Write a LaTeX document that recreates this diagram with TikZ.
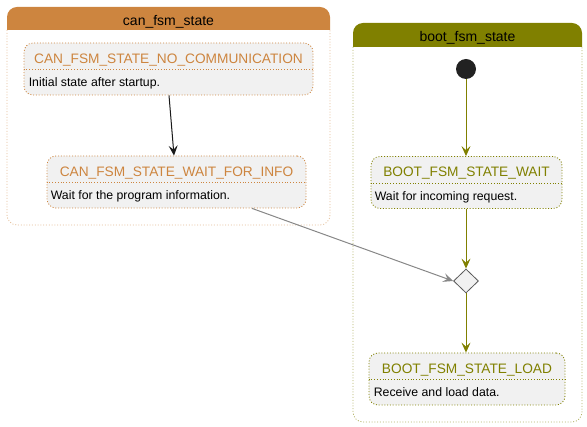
\documentclass[tikz,border=0pt]{standalone}
\usepackage{fontspec}
\setmainfont{Liberation Sans}
\usetikzlibrary{calc,shapes.geometric,arrows.meta}
\definecolor{canorange}{RGB}{205,133,63}
\definecolor{bootolive}{RGB}{128,128,0}
\definecolor{boxgray}{RGB}{241,241,241}
\definecolor{dotblack}{RGB}{34,34,34}
\tikzset{
  dotline/.style={line width=0.8pt, dash pattern=on 1pt off 1.8pt},
  statebox/.style={draw=#1, dotline, rounded corners=9pt, fill=boxgray, inner sep=0pt, minimum height=52pt},
  statetitle/.style={text=#1, font=\fontsize{13.7}{16}\selectfont, inner sep=0pt, anchor=base},
  statedesc/.style={font=\fontsize{12.3}{14}\selectfont, inner sep=0pt, anchor=base west},
  headtext/.style={font=\fontsize{14}{16}\selectfont, inner sep=0pt, anchor=base},
  trans/.style={line width=1pt, -{Stealth[length=10pt,width=9pt,inset=4pt]}},
}

\begin{document}
\begin{tikzpicture}[x=1pt,y=-1pt]
\useasboundingbox (0,0) rectangle (587,427);

% containers
\fill[canorange] (7,30) [rounded corners=10pt] -- (7,7) -- (330,7) [sharp corners] -- (330,30) -- cycle;
\draw[canorange!55, dotline] (7,30) [rounded corners=10pt] -- (7,225) -- (330,225) [sharp corners] -- (330,30);
\node[headtext] (canhead) at (168.5,26) {can\_fsm\_state};

\fill[bootolive] (353,47) [rounded corners=10pt] -- (353,23) -- (582,23) [sharp corners] -- (582,47) -- cycle;
\draw[bootolive!60, dotline] (353,47) [rounded corners=10pt] -- (353,422) -- (582,422) [sharp corners] -- (582,47);
\node[headtext] (boothead) at (467.5,42) {boot\_fsm\_state};

% states
\node[statebox=canorange, minimum width=289pt] (nocomm) at (168.5,69) {};
\node[statebox=canorange, minimum width=259pt] (waitinfo) at (176.5,182) {};
\node[statebox=bootolive, minimum width=191pt] (bootwait) at (466.5,182.5) {};
\node[statebox=bootolive, minimum width=196pt] (bootload) at (467,379) {};

\node[statetitle=canorange] (nocommtitle) at ($(nocomm.north)+(0,20.5)$) {CAN\_FSM\_STATE\_NO\_COMMUNICATION};
\node[statetitle=canorange] (waitinfotitle) at ($(waitinfo.north)+(0,20.5)$) {CAN\_FSM\_STATE\_WAIT\_FOR\_INFO};
\node[statetitle=bootolive] (bootwaittitle) at ($(bootwait.north)+(0,20.5)$) {BOOT\_FSM\_STATE\_WAIT};
\node[statetitle=bootolive] (bootloadtitle) at ($(bootload.north)+(0,20.5)$) {BOOT\_FSM\_STATE\_LOAD};

\foreach \s/\c in {nocomm/canorange,waitinfo/canorange,bootwait/bootolive,bootload/bootolive}
{
	\draw[\c, dotline] ($(\s.north west)+(0,27)$) -- ($(\s.north east)+(0,27)$);
}

\node[statedesc] (nocommdesc) at ($(nocomm.north west)+(5,44)$) {Initial state after startup.};
\node[statedesc] (waitinfodesc) at ($(waitinfo.north west)+(4,44)$) {Wait for the program information.};
\node[statedesc] (bootwaitdesc) at ($(bootwait.north west)+(4,44)$) {Wait for incoming request.};
\node[statedesc] (bootloaddesc) at ($(bootload.north west)+(5,44)$) {Receive and load data.};

% start and choice
\node[circle, fill=dotblack, minimum size=20pt, inner sep=0pt] (start) at (466,69) {};
\node[diamond, draw=black!65, fill=boxgray, line width=0.8pt, minimum width=25pt, minimum height=24pt, inner sep=0pt] (choice) at (466,281) {};

% transitions
\draw[trans, black!90] ([xshift=0.5pt]nocomm.south) -- ([xshift=-2.5pt]waitinfo.north);
\draw[trans, bootolive] (start) -- (bootwait.north -| start);
\draw[trans, bootolive] (bootwait.south -| choice) -- (choice);
\draw[trans, bootolive] (choice) -- (bootload.north -| choice);
\draw[trans, black!47] ([xshift=75.5pt]waitinfo.south) -- (choice.west);

\end{tikzpicture}
\end{document}
